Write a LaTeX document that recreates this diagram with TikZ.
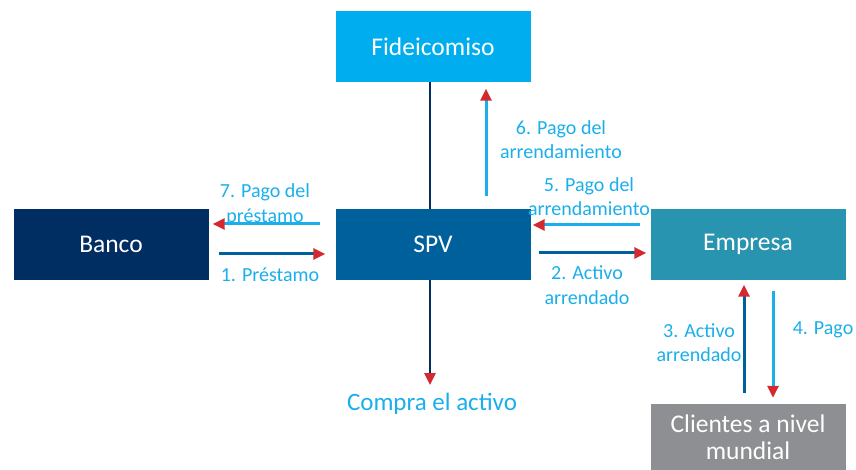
\documentclass[tikz,border=0pt]{standalone}
\usepackage{fontspec}
\setmainfont{Carlito}
\usepackage{tikz}
\usetikzlibrary{arrows.meta}

\definecolor{fidblue}{HTML}{00AEEF}
\definecolor{bancoblue}{HTML}{002D62}
\definecolor{spvblue}{HTML}{00609C}
\definecolor{empresateal}{HTML}{2894AF}
\definecolor{clientegray}{HTML}{8E8F92}
\definecolor{lblblue}{HTML}{1AAFEA}
\definecolor{tipred}{HTML}{D42A2F}

\begin{document}
\begin{tikzpicture}[x=1pt,y=-1pt,
		box/.style={minimum width=195pt,minimum height=71pt,inner sep=0pt,text=white,font=\fontsize{25.5}{27}\selectfont},
		lbl/.style={text=lblblue,align=center,inner sep=0pt,font=\fontsize{20}{24.5}\selectfont},
		redtip/.style={-{Triangle[length=12pt,width=11pt,color=tipred]}},
		lightarrow/.style={redtip,line width=3pt,draw=lblblue},
		darkarrow/.style={redtip,line width=3pt,draw=spvblue}
	]
		\useasboundingbox (0,0) rectangle (856,470);
		
		\node (fid) [box,fill=fidblue] at (433,46.5) {Fideicomiso};
		\node (banco) [box,fill=bancoblue] at (111,244.5) {Banco};
		\node (spv) [box,fill=spvblue] at (433,244.5) {SPV};
		\node (empresa) [box,fill=empresateal] at (748,244.5) {Empresa};
		\node (clientes) [box,fill=clientegray,minimum height=66pt,align=center] at (748,437) {Clientes a nivel\\mundial};
		
		\node (compra) [lbl,font=\fontsize{25}{27}\selectfont] at (432,404) {Compra el activo};
		\coordinate (compratip) at (430,385);
		
		\draw [line width=2.7pt,bancoblue] ([xshift=-3pt]fid.south) -- ([xshift=-3pt]spv.north);
		\draw [redtip,line width=2.7pt,bancoblue] ([xshift=-3pt]spv.south) -- (compratip);
		
		\draw [lightarrow] ([shift={(-15,-20.5)}]spv.west) -- ([shift={(4,-20.5)}]banco.east);
		\draw [darkarrow] ([shift={(10,9.5)}]banco.east) -- ([shift={(-10,9.5)}]spv.west);
		\draw [lightarrow] ([shift={(-10,-19.5)}]empresa.west) -- ([shift={(2,-19.5)}]spv.east);
		\draw [darkarrow] ([shift={(8,8.5)}]spv.east) -- ([shift={(-4,8.5)}]empresa.west);
		\draw [lightarrow] ([shift={(53,-12.5)}]spv.north) -- ([shift={(53,6.5)}]fid.south);
		\draw [darkarrow] ([shift={(-4,-11)}]clientes.north) -- ([shift={(-4,4.5)}]empresa.south);
		\draw [lightarrow] ([shift={(25,10.5)}]empresa.south) -- ([shift={(25,-6)}]clientes.north);
		
		\node (l7) [lbl] at (265,204.5) {7. Pago del\\préstamo};
		\node (l1) [lbl] at (270,275) {1. Préstamo};
		\node (l6) [lbl] at (561,139.5) {6. Pago del\\arrendamiento};
		\node (l5) [lbl] at (589,196.5) {5. Pago del\\arrendamiento};
		\node (l2) [lbl] at (587,285) {2. Activo\\arrendado};
		\node (l3) [lbl] at (699,342.5) {3. Activo\\arrendado};
		\node (l4) [lbl] at (823,330) {4. Pago};
\end{tikzpicture}
\end{document}
